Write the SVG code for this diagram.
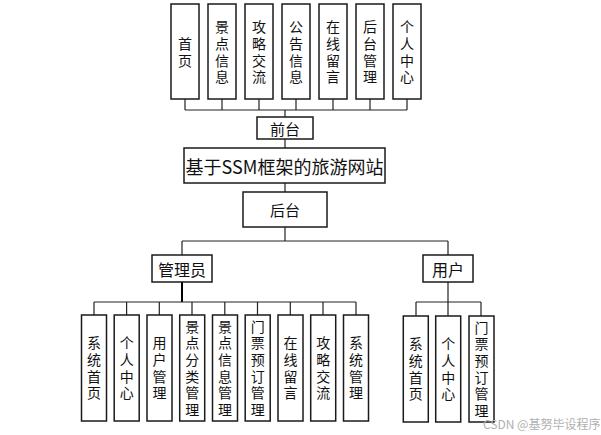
<svg xmlns="http://www.w3.org/2000/svg" width="601" height="435" viewBox="0 0 601 435">
<defs>
<style>
.box{fill:#fff;stroke:#1a1a1a;stroke-width:1.5}
.t{font-family:"Noto Sans CJK SC","Noto Sans",sans-serif;fill:#111;text-anchor:middle;dominant-baseline:central}
.v{font-family:"Noto Sans CJK SC","Noto Sans",sans-serif;fill:#111;font-size:14px;writing-mode:vertical-rl;text-anchor:middle;letter-spacing:2.7px}
.c{fill:none;stroke:#222;stroke-width:1.2}
.ct{fill:none;stroke:#000;stroke-width:2}
.wm{font-family:"Noto Sans CJK SC","Noto Sans",sans-serif;font-size:12px;fill:#b0b0b0}
</style>
</defs>
<rect width="601" height="435" fill="#fff"/>
<g id="connectors">
<path class="c" d="M185 99V110M222 99V110M259 99V110M296 99V110M333 99V110M370 99V110M407 99V110M185 110H407M285 110V117"/>
<path class="c" d="M285 139V148M285 183V192M285 227V241M182 241H448M182 241V255M448 241V255"/>
<path class="ct" d="M182 282V302"/>
<path class="c" d="M94 302H356M94 302V315M126.6 302V315M159.3 302V315M192 302V315M224.8 302V315M257.5 302V315M290.3 302V315M323 302V315M356 302V315"/>
<path class="c" d="M448 282V316M416 302H481M416 302V316M481 302V316"/>
</g>
<g id="top-nodes">
<g id="n-shouye"><rect class="box" x="171" y="4" width="28" height="95"/><text class="v" x="185" y="53.4">首页</text></g>
<g id="n-jdxx"><rect class="box" x="208" y="4" width="28" height="95"/><text class="v" x="222" y="53.4">景点信息</text></g>
<g id="n-gljl"><rect class="box" x="245" y="4" width="28" height="95"/><text class="v" x="259" y="53.4">攻略交流</text></g>
<g id="n-ggxx"><rect class="box" x="282" y="4" width="28" height="95"/><text class="v" x="296" y="53.4">公告信息</text></g>
<g id="n-zxly"><rect class="box" x="319" y="4" width="28" height="95"/><text class="v" x="333" y="53.4">在线留言</text></g>
<g id="n-htgl"><rect class="box" x="356" y="4" width="28" height="95"/><text class="v" x="370" y="53.4">后台管理</text></g>
<g id="n-grzx"><rect class="box" x="393" y="4" width="28" height="95"/><text class="v" x="407" y="53.4">个人中心</text></g>
</g>
<g id="n-qiantai"><rect class="box" x="257" y="117" width="56" height="22"/><text class="t" x="285" y="128" font-size="15">前台</text></g>
<g id="n-main"><rect class="box" x="184" y="148" width="201" height="35"/><text class="t" x="284.5" y="165.5" font-size="18">基于SSM框架的旅游网站</text></g>
<g id="n-houtai"><rect class="box" x="243" y="192" width="84" height="35"/><text class="t" x="285" y="209.5" font-size="15">后台</text></g>
<g id="n-admin"><rect class="box" x="152" y="255" width="60" height="27"/><text class="t" x="182" y="268.5" font-size="16">管理员</text></g>
<g id="n-user"><rect class="box" x="423" y="255" width="50" height="27"/><text class="t" x="448" y="268.5" font-size="16">用户</text></g>
<g id="admin-nodes">
<g id="a1"><rect class="box" x="81.5" y="315" width="25" height="106"/><text class="v" x="94" y="369.4">系统首页</text></g>
<g id="a2"><rect class="box" x="114.2" y="315" width="25" height="106"/><text class="v" x="126.7" y="369.4">个人中心</text></g>
<g id="a3"><rect class="box" x="147" y="315" width="25" height="106"/><text class="v" x="159.5" y="369.4">用户管理</text></g>
<g id="a4"><rect class="box" x="179.7" y="315" width="25" height="106"/><text class="v" x="192.2" y="369.4">景点分类管理</text></g>
<g id="a5"><rect class="box" x="212.5" y="315" width="25" height="106"/><text class="v" x="225" y="369.4">景点信息管理</text></g>
<g id="a6"><rect class="box" x="245.2" y="315" width="25" height="106"/><text class="v" x="257.7" y="369.4">门票预订管理</text></g>
<g id="a7"><rect class="box" x="278" y="315" width="25" height="106"/><text class="v" x="290.5" y="369.4">在线留言</text></g>
<g id="a8"><rect class="box" x="310.7" y="315" width="25" height="106"/><text class="v" x="323.2" y="369.4">攻略交流</text></g>
<g id="a9"><rect class="box" x="343.5" y="315" width="25" height="106"/><text class="v" x="356" y="369.4">系统管理</text></g>
</g>
<g id="user-nodes">
<g id="u1"><rect class="box" x="403.3" y="316" width="25" height="106"/><text class="v" x="415.8" y="370.4">系统首页</text></g>
<g id="u2"><rect class="box" x="435.7" y="316" width="25" height="106"/><text class="v" x="448.2" y="370.4">个人中心</text></g>
<g id="u3"><rect class="box" x="469" y="316" width="25" height="106"/><text class="v" x="481.5" y="370.4">门票预订管理</text></g>
</g>
<text class="wm" x="483" y="429">CSDN @基努毕设程序</text>
</svg>
